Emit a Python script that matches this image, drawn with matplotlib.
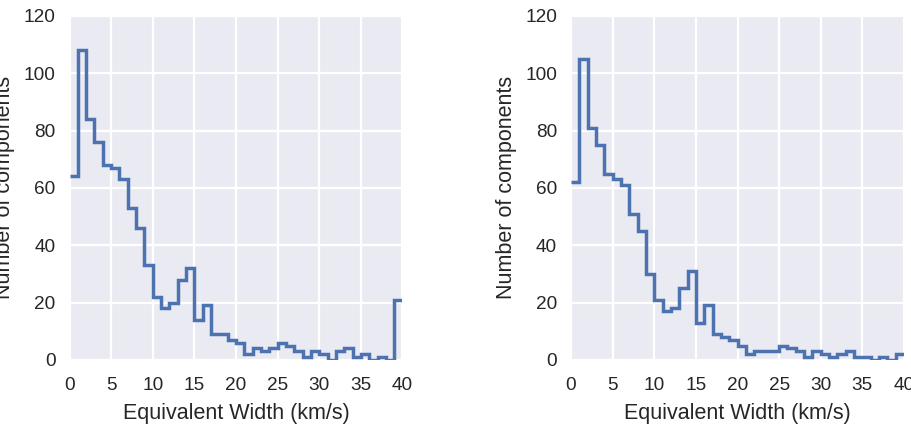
import matplotlib
matplotlib.use("Agg")
import matplotlib.pyplot as plt
import numpy as np

# bin edges (km/s), 1 km/s bins
edges = np.arange(0, 41)

# counts per bin, left panel
counts_left = [64, 108, 84, 76, 68, 67, 63, 53, 46, 33,
               22, 18, 20, 28, 32, 14, 19, 9, 9, 7,
               6, 2, 4, 3, 4, 6, 5, 3, 1, 3,
               2, 0, 3, 4, 1, 2, 0, 1, 0, 21]

# counts per bin, right panel
counts_right = [62, 105, 81, 75, 65, 63, 61, 51, 45, 30,
                21, 17, 18, 25, 31, 13, 19, 9, 8, 7,
                5, 2, 3, 3, 3, 5, 4, 3, 1, 3,
                2, 1, 2, 3, 1, 1, 0, 1, 0, 2]

xticks = [0, 5, 10, 15, 20, 25, 30, 35, 40]
yticks = [0, 20, 40, 60, 80, 100, 120]

plt.rcParams['font.family'] = ['Liberation Sans', 'DejaVu Sans']
plt.rcParams['text.color'] = '#262626'
plt.rcParams['axes.labelcolor'] = '#262626'
plt.rcParams['xtick.color'] = '#262626'
plt.rcParams['ytick.color'] = '#262626'

fig = plt.figure(figsize=(9.11, 4.30), dpi=100)
ax1 = fig.add_axes([0.0763, 0.163, 0.3655, 0.8])
ax2 = fig.add_axes([0.6268, 0.163, 0.3655, 0.8])

for ax, counts in [(ax1, counts_left), (ax2, counts_right)]:
    ax.set_facecolor('#EAEAF2')
    for s in ax.spines.values():
        s.set_visible(False)
    ax.grid(True, color='white', linewidth=1.6)
    ax.set_axisbelow(True)
    ax.stairs(counts, edges, baseline=None, color='#4C72B0', linewidth=2.5)
    ax.set_xlim(0, 40)
    ax.set_ylim(0, 120)
    ax.set_xticks(xticks)
    ax.set_yticks(yticks)
    ax.tick_params(length=0, labelsize=13.7)
    ax.tick_params(axis='x', pad=12)
    ax.tick_params(axis='y', pad=10)
    ax.set_xlabel('Equivalent Width (km/s)', fontsize=15.5, labelpad=7)
    ax.set_ylabel('Number of components', fontsize=15.5, labelpad=6)

fig.savefig('out.png', dpi=100)
